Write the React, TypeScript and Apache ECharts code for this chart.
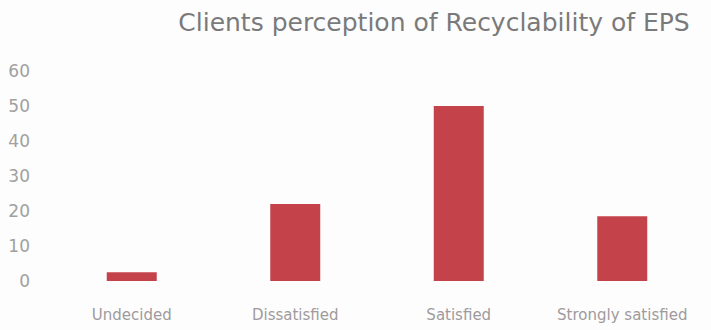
import React, { useEffect, useRef } from "react";
import * as echarts from "echarts";

const categories = ["Undecided", "Dissatisfied", "Satisfied", "Strongly satisfied"];
const values = [2.5, 22, 50, 18.5];
const yTicks = [0, 10, 20, 30, 40, 50, 60];
const title = "Clients perception of Recyclability of EPS";

export default function App() {
  const ref = useRef<HTMLDivElement>(null);
  useEffect(() => {
    if (!ref.current) return;
    const chart = echarts.init(ref.current, null, { renderer: "svg" });
    chart.setOption({
      animation: false,
      backgroundColor: "#fdfdfd",
      title: {
        text: title,
        left: 429,
        top: 5,
        textAlign: "center",
        textStyle: { fontFamily: "DejaVu Sans", fontSize: 25, fontWeight: "normal", color: "#7a7a7a" },
      },
      grid: { left: 50, right: 7, top: 71, bottom: 49 },
      xAxis: {
        type: "category",
        data: categories,
        axisLine: { show: false },
        axisTick: { show: false },
        axisLabel: { color: "#a09a9c", fontSize: 15, fontFamily: "DejaVu Sans", margin: 26, interval: 0 },
      },
      yAxis: {
        type: "value",
        min: yTicks[0],
        max: yTicks[yTicks.length - 1],
        interval: 10,
        splitLine: { show: false },
        axisLine: { show: false },
        axisTick: { show: false },
        axisLabel: { color: "#a0a0a0", fontSize: 17, fontFamily: "DejaVu Sans", margin: 20 },
      },
      series: [
        {
          type: "bar",
          data: values,
          barWidth: 50,
          itemStyle: { color: "#c4434b" },
        },
      ],
    });
    return () => chart.dispose();
  }, []);
  return <div ref={ref} style={{ width: 711, height: 330, position: "absolute", left: 0, top: 0 }} />;
}
